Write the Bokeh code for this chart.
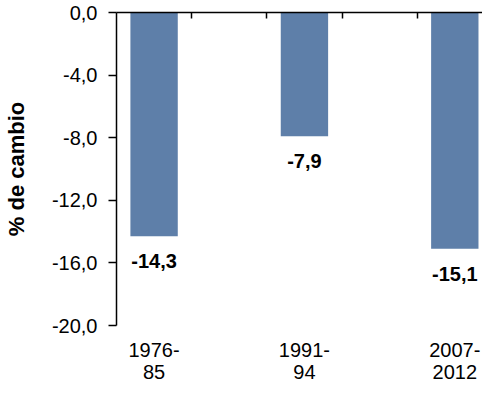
from bokeh.plotting import figure
from bokeh.models import Range1d, FixedTicker, LinearAxis, ColumnDataSource
from bokeh.core.properties import value
from bokeh.embed import file_html
from bokeh.resources import INLINE

# --- data ---
categories = ["1976-\n85", "1991-\n94", "2007-\n2012"]
values = [-14.3, -7.9, -15.1]
y_ticks = [0, -4, -8, -12, -16, -20]
y_title = "% de cambio"

FONT = "Liberation Sans"
BAR_COLOR = "#5E7FA9"

# category slots: each category occupies two slots (one empty between bars)
pos = [2 * i + 0.5 for i in range(len(categories))]
labels_txt = [f"{v:.1f}".replace(".", ",") for v in values]
label_y = [v - 1.6 for v in values]

src = ColumnDataSource(dict(x=pos, top=[0] * len(values), bottom=values,
                            ly=label_y, txt=labels_txt))

p = figure(width=482, height=387, output_backend="svg", toolbar_location=None,
           x_range=Range1d(0, 370 / 76), y_range=Range1d(-20, 0),
           x_axis_location=None, y_axis_location=None,
           min_border_left=112, min_border_right=0, min_border_top=12,
           min_border_bottom=62)
p.outline_line_color = None
p.xgrid.visible = False
p.ygrid.visible = False
p.background_fill_color = "white"
p.border_fill_color = "white"

p.vbar(x="x", top="top", bottom="bottom", width=0.63, source=src,
       fill_color=BAR_COLOR, line_color=None)

p.text(x="x", y="ly", text="txt", source=src, text_align="center",
       text_baseline="middle", text_font=value(FONT), text_font_style="bold",
       text_font_size="20px", text_color="black")

# left value axis
ya = LinearAxis(ticker=FixedTicker(ticks=y_ticks))
ya.major_label_overrides = {t: f"{t:.1f}".replace(".", ",").replace("-0,0", "0,0") for t in y_ticks}
ya.axis_line_color = "black"
ya.axis_line_width = 1.5
ya.major_tick_line_color = "black"
ya.major_tick_line_width = 1.5
ya.major_tick_out = 8
ya.major_tick_in = 0
ya.minor_tick_line_color = None
ya.major_label_standoff = 11
ya.major_label_text_font = FONT
ya.major_label_text_font_size = "20px"
ya.major_label_text_color = "black"
ya.axis_label = y_title
ya.axis_label_text_font = FONT
ya.axis_label_text_font_style = "bold"
ya.axis_label_text_font_size = "22px"
ya.axis_label_text_color = "black"
ya.axis_label_standoff = 20
p.add_layout(ya, "left")

# top category axis line with slot boundary ticks
ta = LinearAxis(ticker=FixedTicker(ticks=[1, 2, 3, 4]))
ta.major_label_overrides = {1: "", 2: "", 3: "", 4: ""}
ta.major_label_text_font_size = "1px"
ta.major_label_standoff = 0
ta.axis_line_color = "black"
ta.axis_line_width = 1.5
ta.major_tick_line_color = "black"
ta.major_tick_line_width = 1.5
ta.major_tick_in = 6
ta.major_tick_out = 0
ta.minor_tick_line_color = None
p.add_layout(ta, "above")

# bottom category labels
ba = LinearAxis(ticker=FixedTicker(ticks=pos))
ba.major_label_overrides = {x: c for x, c in zip(pos, categories)}
ba.axis_line_color = None
ba.major_tick_line_color = None
ba.major_tick_in = 0
ba.major_tick_out = 0
ba.minor_tick_line_color = None
ba.major_label_standoff = 13
ba.major_label_text_font = FONT
ba.major_label_text_font_size = "20px"
ba.major_label_text_line_height = 1.0
ba.major_label_text_color = "black"
p.add_layout(ba, "below")

open("out.html", "w").write(file_html(p, INLINE))
